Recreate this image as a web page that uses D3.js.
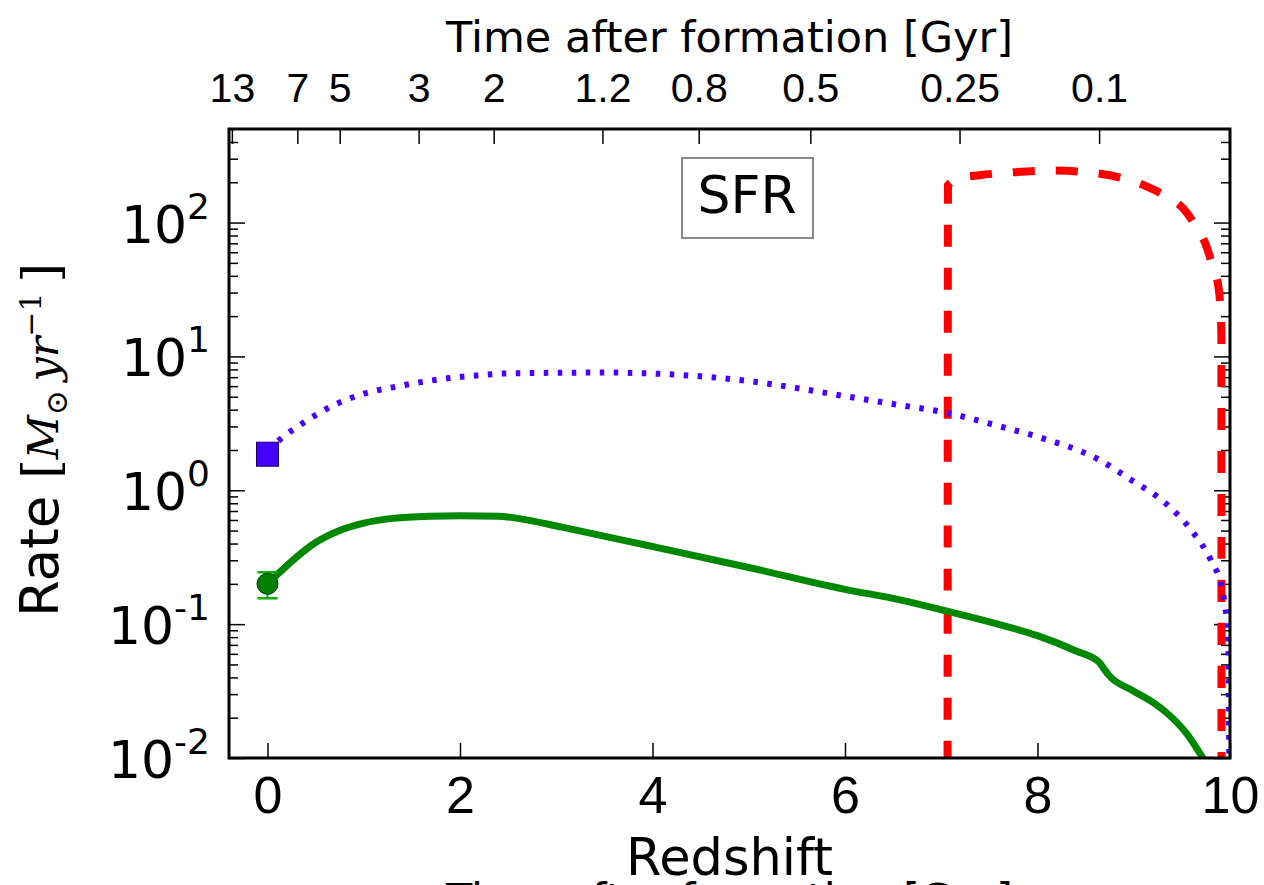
<!DOCTYPE html>
<html>
<head>
<meta charset="utf-8">
<script src="https://cdn.jsdelivr.net/npm/d3@7"></script>
<style>
	body { margin: 0; background: #fff; }
	svg { display: block; font-family: 'DejaVu Sans', sans-serif; }
</style>
</head>
<body>
<svg id="chart" width="1264" height="885"></svg>
<script>
// ---- data ----
const redshiftTicks = [0, 2, 4, 6, 8, 10];
const rateTicks = [1e-2, 1e-1, 1e0, 1e1, 1e2];
const rateTickExp = ['-2', '-1', '0', '1', '2'];
const timeTickLabels = ['13', '7', '5', '3', '2', '1.2', '0.8', '0.5', '0.25', '0.1'];
const timeTickZ = [-0.37, 0.31, 0.75, 1.57, 2.35, 3.48, 4.48, 5.64, 7.19, 8.64];

// green solid
const greenZ = [0, 0.1, 0.3, 0.5, 0.75, 1.0, 1.3, 1.7, 2.0, 2.4, 2.6, 3.06, 4.0, 5.0, 6.0, 6.57, 7.06, 7.5, 8.0, 8.4, 8.64, 8.68, 8.74, 8.99, 9.2, 9.35, 9.55, 9.71, 9.8];
const greenRate = [0.2, 0.234, 0.316, 0.407, 0.501, 0.569, 0.617, 0.641, 0.646, 0.64, 0.617, 0.53, 0.38, 0.265, 0.182, 0.152, 0.125, 0.104, 0.082, 0.063, 0.052, 0.0475, 0.0416, 0.0318, 0.026, 0.0215, 0.0152, 0.0102, 0.008];

// blue dotted
const blueZ = [0, 0.21, 0.33, 0.73, 1.01, 1.3, 1.58, 1.87, 2.17, 2.48, 3.06, 3.5, 4.0, 4.5, 5.0, 5.5, 6.0, 6.57, 7.02, 7.61, 8.05, 8.62, 8.97, 9.33, 9.62, 9.8, 9.92, 9.95, 9.98, 9.995];
const blueRate = [2.0, 2.66, 3.05, 4.46, 5.29, 5.87, 6.4, 6.86, 7.21, 7.46, 7.55, 7.58, 7.45, 7.1, 6.55, 5.8, 5.05, 4.33, 3.84, 3.0, 2.45, 1.72, 1.2, 0.8, 0.479, 0.301, 0.18, 0.134, 0.086, 0.005];

// red dashed
const redZ = [7.065, 7.07, 7.18, 7.4, 7.7, 8.15, 8.6, 8.95, 9.15, 9.35, 9.52, 9.64, 9.75, 9.82, 9.88, 9.9, 9.91, 9.912];
const redRate = [0.001, 190, 213, 226, 236, 245, 234, 208, 184, 155, 126, 95, 68, 47, 33, 23, 15, 0.001];

// observed points at z = 0
const obsZ = 0;
const obsBlue = 1.86;
const obsGreen = 0.2;
const obsGreenErr = [0.156, 0.244];

// ---- layout ----
const plotL = 229, plotR = 1230, plotT = 129, plotB = 758;

const x = d3.scaleLinear().domain([-0.4, 10]).range([plotL, plotR]);
const y = d3.scaleLog().domain([0.01, 500]).range([plotB, plotT]);

const svg = d3.select('#chart');

svg.append('defs')
	.append('clipPath')
	.attr('id', 'plot-clip')
	.append('rect')
	.attr('x', plotL)
	.attr('y', plotT)
	.attr('width', plotR - plotL)
	.attr('height', plotB - plotT);

// minor log ticks 2..9 per decade
const minorTicks = [];
for (let e = -2; e <= 2; e++) {
	for (let m = 2; m <= 9; m++) {
		const v = m * Math.pow(10, e);
		if (v < 500) minorTicks.push(v);
	}
}

function styleAxis(g) {
	g.select('.domain').remove();
	g.selectAll('.tick line').attr('stroke', '#000').attr('stroke-width', 1.5);
}

// bottom axis
const bottomAxis = svg.append('g')
	.attr('transform', `translate(0,${plotB})`)
	.call(d3.axisBottom(x).tickValues(redshiftTicks).tickSize(-15).tickSizeOuter(0).tickFormat(d3.format('d')))
	.call(styleAxis);
bottomAxis.selectAll('.tick text')
	.attr('y', 55)
	.attr('dy', 0)
	.attr('fill', '#000')
	.style('font-size', '52px');

// top axis (time after formation)
const topAxis = svg.append('g')
	.attr('transform', `translate(0,${plotT})`)
	.call(d3.axisTop(x).tickValues(timeTickZ).tickSize(-15).tickSizeOuter(0).tickFormat((d, i) => timeTickLabels[i]))
	.call(styleAxis);
topAxis.selectAll('.tick text')
	.attr('y', 102 - plotT)
	.attr('dy', 0)
	.attr('fill', '#000')
	.style('font-size', '41px');

// left + right major / minor ticks
[[d3.axisLeft, plotL], [d3.axisRight, plotR]].forEach(([axisFn, pos]) => {
	svg.append('g')
		.attr('transform', `translate(${pos},0)`)
		.call(axisFn(y).tickValues(rateTicks).tickSize(-16).tickSizeOuter(0).tickFormat(() => ''))
		.call(styleAxis);
	svg.append('g')
		.attr('transform', `translate(${pos},0)`)
		.call(axisFn(y).tickValues(minorTicks).tickSize(-9).tickSizeOuter(0).tickFormat(() => ''))
		.call(styleAxis);
});

// left tick labels 10^n
const yLabels = svg.append('g')
	.selectAll('text')
	.data(rateTicks)
	.join('text')
	.attr('x', 210)
	.attr('y', (d) => y(d) + 20)
	.attr('text-anchor', 'end')
	.attr('fill', '#000')
	.style('font-size', '52px');
yLabels.append('tspan').text('10');
yLabels.append('tspan')
	.attr('dy', -24)
	.style('font-size', '36px')
	.text((d, i) => rateTickExp[i]);

// curves
const plot = svg.append('g').attr('clip-path', 'url(#plot-clip)');

const line = d3.line()
	.x((d) => x(d[0]))
	.y((d) => y(d[1]))
	.curve(d3.curveMonotoneX);

plot.append('path')
	.datum(d3.zip(redZ, redRate))
	.attr('d', line)
	.attr('fill', 'none')
	.attr('stroke', '#ff0000')
	.attr('stroke-width', 8)
	.attr('stroke-dasharray', '22 21');

plot.append('path')
	.datum(d3.zip(blueZ, blueRate))
	.attr('d', line)
	.attr('fill', 'none')
	.attr('stroke', '#4a00ff')
	.attr('stroke-width', 6)
	.attr('stroke-dasharray', '4.5 9.5');

plot.append('path')
	.datum(d3.zip(greenZ, greenRate))
	.attr('d', line)
	.attr('fill', 'none')
	.attr('stroke', '#008800')
	.attr('stroke-width', 7);

// observed markers
const gx = x(obsZ);
plot.append('line')
	.attr('x1', gx).attr('x2', gx)
	.attr('y1', y(obsGreenErr[0])).attr('y2', y(obsGreenErr[1]))
	.attr('stroke', '#00b000').attr('stroke-width', 2);
obsGreenErr.forEach((v) => {
	plot.append('line')
		.attr('x1', gx - 10).attr('x2', gx + 10)
		.attr('y1', y(v)).attr('y2', y(v))
		.attr('stroke', '#00b000').attr('stroke-width', 2.5);
});
plot.append('circle')
	.attr('cx', gx).attr('cy', y(obsGreen)).attr('r', 10.5)
	.attr('fill', '#008000').attr('stroke', '#003300').attr('stroke-width', 1);
plot.append('rect')
	.attr('x', gx - 11).attr('y', y(obsBlue) - 12)
	.attr('width', 22).attr('height', 24)
	.attr('fill', '#4400ff').attr('stroke', '#1a0066').attr('stroke-width', 1);

// frame
svg.append('rect')
	.attr('x', plotL).attr('y', plotT)
	.attr('width', plotR - plotL).attr('height', plotB - plotT)
	.attr('fill', 'none')
	.attr('stroke', '#000')
	.attr('stroke-width', 3);

// SFR label box
svg.append('rect')
	.attr('x', 682).attr('y', 158)
	.attr('width', 131).attr('height', 80)
	.attr('fill', '#fff')
	.attr('stroke', '#888')
	.attr('stroke-width', 2);
svg.append('text')
	.attr('x', 747).attr('y', 213)
	.attr('text-anchor', 'middle')
	.style('font-size', '52px')
	.text('SFR');

// axis titles
const midX = (plotL + plotR) / 2;
svg.append('text')
	.attr('x', midX).attr('y', 52)
	.attr('text-anchor', 'middle')
	.style('font-size', '43px')
	.text('Time after formation [Gyr]');
svg.append('text')
	.attr('x', midX).attr('y', 875)
	.attr('text-anchor', 'middle')
	.style('font-size', '51px')
	.text('Redshift');
// duplicate title cut off at the bottom edge, as in the original
svg.append('text')
	.attr('x', midX).attr('y', 914)
	.attr('text-anchor', 'middle')
	.style('font-size', '43px')
	.text('Time after formation [Gyr]');

const serif = "'DejaVu Serif', 'Liberation Serif', serif";
const yTitle = svg.append('text')
	.attr('transform', `translate(58,440) rotate(-90)`)
	.attr('text-anchor', 'middle');
yTitle.append('tspan').style('font-size', '53px').text('Rate ');
yTitle.append('tspan').style('font-family', serif).style('font-size', '50px').text('[');
yTitle.append('tspan').style('font-family', serif).style('font-style', 'italic').style('font-size', '43px').text('M');
yTitle.append('tspan').attr('dy', 9).style('font-family', serif).style('font-size', '30px').text('⊙');
yTitle.append('tspan').attr('dy', -9).style('font-family', serif).style('font-style', 'italic').style('font-size', '43px').text('\u2009yr');
yTitle.append('tspan').attr('dy', -17).style('font-family', serif).style('font-size', '30px').text('−1');
yTitle.append('tspan').attr('dy', 17).style('font-family', serif).style('font-size', '50px').text('\u2009]');
</script>
</body>
</html>
